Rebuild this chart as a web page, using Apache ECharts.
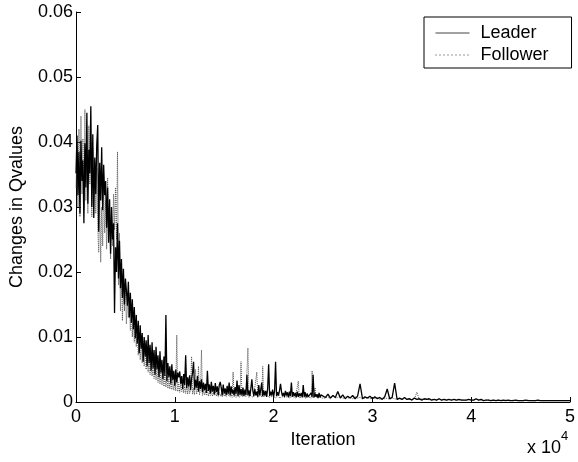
<!DOCTYPE html>
<html>
<head>
<meta charset="utf-8">
<script src="https://cdn.jsdelivr.net/npm/echarts@6/dist/echarts.min.js"></script>
<style>
html,body{margin:0;padding:0;background:#fff;}
#chart{width:578px;height:462px;}
</style>
</head>
<body>
<div id="chart"></div>
<script>
// Sampling grid: every 100 iterations from 0 to 25000, then every 250 iterations up to 50000
const earlyStep = 100;
const earlyEnd = 25000;
const lateStep = 250;

const seriesNames = ['Leader', 'Follower'];

const xTickLabels = ['0', '1', '2', '3', '4', '5'];
const yTickLabels = ['0', '0.01', '0.02', '0.03', '0.04', '0.05', '0.06'];

// iterations 0 .. 25000 (step 100)
const leaderEarly = [
  .0352, .0410, .0318, .0385, .0290, .0402, .0340, .0372, .0275, .0398,
  .0330, .0445, .0305, .0388, .0352, .0455, .0300, .0412, .0283, .0376,
  .0320, .0395, .0426, .0262, .0368, .0310, .0392, .0295, .0365, .0318,
  .0340, .0268, .0330, .0245, .0312, .0228, .0300, .0250, .0275, .0137,
  .0238, .0200, .0275, .0190, .0248, .0175, .0220, .0160, .0205, .0150,
  .0190, .0172, .0148, .0185, .0130, .0168, .0122, .0158, .0112, .0146,
  .0098, .0134, .0090, .0125, .0075, .0118, .0082, .0106, .0062, .0100,
  .0070, .0095, .0055, .0103, .0060, .0088, .0048, .0092, .0052, .0080,
  .0042, .0085, .0050, .0072, .0038, .0078, .0045, .0065, .0035, .0070,
  .0040, .0134, .0032, .0060, .0038, .0055, .0028, .0058, .0034, .0048,
  .0025, .0050, .0030, .0045, .0038, .0047, .0028, .0040, .0020, .0043,
  .0026, .0072, .0021, .0038, .0024, .0041, .0018, .0036, .0045, .0062,
  .0019, .0034, .0022, .0040, .0016, .0032, .0020, .0035, .0015, .0030,
  .0018, .0028, .0014, .0048, .0017, .0027, .0013, .0031, .0016, .0025,
  .0012, .0029, .0015, .0024, .0011, .0026, .0031, .0022, .0010, .0027,
  .0013, .0021, .0011, .0025, .0012, .0030, .0010, .0024, .0013, .0019,
  .0010, .0023, .0012, .0033, .0009, .0026, .0011, .0020, .0010, .0022,
  .0009, .0019, .0011, .0042, .0010, .0018, .0009, .0021, .0035, .0017,
  .0009, .0020, .0010, .0016, .0008, .0026, .0010, .0019, .0030, .0009,
  .0018, .0010, .0017, .0008, .0021, .0058, .0009, .0016, .0010, .0019,
  .0008, .0017, .0062, .0009, .0015, .0010, .0018, .0028, .0016, .0009,
  .0014, .0008, .0017, .0010, .0015, .0007, .0016, .0009, .0030, .0008,
  .0015, .0009, .0014, .0007, .0016, .0008, .0013, .0009, .0014, .0007,
  .0026, .0008, .0015, .0007, .0013, .0008, .0011, .0007, .0014, .0008,
  .0042, .0007, .0013, .0008, .0012, .0006, .0014, .0007, .0011, .0008, .0013
];

// iterations 25250 .. 50000 (step 250)
const leaderLate = [
  .0007, .0012, .0006, .0010, .0007, .0016, .0006, .0011, .0005, .0009,
  .0006, .0010, .0005, .0009, .0028, .0005, .0008, .0006, .0009, .0005,
  .0008, .0005, .0007, .0004, .0008, .0020, .0005, .0007, .0029, .0004,
  .0006, .0004, .0007, .0004, .0005, .0003, .0006, .0004, .0005, .0003,
  .0005, .0004, .0005, .0003, .0004, .0003, .0005, .0003, .0004, .0003,
  .0004, .0003, .0004, .0003, .0004, .0003, .0003, .0003, .0004, .0003,
  .0003, .0005, .0003, .0004, .0002, .0003, .0003, .0002, .0003, .0002,
  .0003, .0002, .0003, .0002, .0003, .0002, .0002, .0003, .0002, .0002,
  .0002, .0003, .0002, .0002, .0002, .0002, .0003, .0002, .0002, .0002,
  .0002, .0002, .0002, .0002, .0002, .0002, .0002, .0002, .0002, .0002
];

const followerEarly = [
  .0330, .0395, .0300, .0420, .0285, .0440, .0320, .0405, .0295, .0450,
  .0310, .0380, .0290, .0425, .0335, .0400, .0285, .0390, .0315, .0370,
  .0290, .0360, .0270, .0230, .0320, .0215, .0300, .0240, .0335, .0260,
  .0310, .0235, .0345, .0250, .0300, .0220, .0285, .0240, .0320, .0265,
  .0330, .0250, .0385, .0180, .0260, .0140, .0215, .0125, .0195, .0140,
  .0175, .0120, .0160, .0130, .0150, .0110, .0138, .0100, .0128, .0092,
  .0118, .0085, .0110, .0072, .0100, .0065, .0092, .0060, .0088, .0055,
  .0082, .0050, .0078, .0046, .0070, .0042, .0066, .0040, .0062, .0036,
  .0058, .0034, .0055, .0030, .0052, .0028, .0048, .0026, .0045, .0024,
  .0042, .0023, .0040, .0021, .0038, .0020, .0036, .0019, .0034, .0018,
  .0032, .0017, .0103, .0016, .0030, .0015, .0028, .0016, .0026, .0014,
  .0025, .0013, .0027, .0012, .0024, .0013, .0022, .0070, .0012, .0021,
  .0011, .0050, .0012, .0020, .0055, .0011, .0019, .0080, .0010, .0018,
  .0011, .0017, .0010, .0019, .0009, .0016, .0010, .0018, .0009, .0015,
  .0010, .0016, .0009, .0014, .0008, .0015, .0009, .0013, .0008, .0014,
  .0009, .0013, .0008, .0012, .0009, .0014, .0008, .0012, .0007, .0046,
  .0008, .0013, .0007, .0011, .0008, .0012, .0007, .0062, .0008, .0011,
  .0007, .0012, .0008, .0010, .0083, .0007, .0011, .0008, .0010, .0007,
  .0011, .0008, .0010, .0046, .0007, .0010, .0008, .0011, .0007, .0055,
  .0008, .0010, .0007, .0011, .0008, .0009, .0007, .0010, .0006, .0009,
  .0007, .0010, .0006, .0009, .0007, .0011, .0006, .0009, .0007, .0008,
  .0006, .0009, .0007, .0008, .0006, .0010, .0006, .0008, .0007, .0009,
  .0006, .0008, .0006, .0009, .0007, .0032, .0006, .0008, .0006, .0009,
  .0007, .0008, .0006, .0009, .0006, .0008, .0007, .0009, .0006, .0048,
  .0006, .0008, .0022, .0007, .0009, .0006, .0008, .0006, .0009, .0006, .0008
];

const followerLate = [
  .0006, .0008, .0005, .0011, .0006, .0007, .0010, .0005, .0008, .0006,
  .0007, .0005, .0008, .0006, .0007, .0005, .0006, .0007, .0005, .0006,
  .0005, .0007, .0004, .0006, .0005, .0006, .0004, .0006, .0005, .0004,
  .0005, .0004, .0006, .0004, .0005, .0004, .0005, .0015, .0004, .0005,
  .0004, .0005, .0003, .0004, .0004, .0003, .0005, .0003, .0004, .0003,
  .0004, .0003, .0004, .0003, .0003, .0004, .0003, .0003, .0004, .0003,
  .0003, .0004, .0003, .0003, .0002, .0003, .0003, .0002, .0003, .0002,
  .0003, .0002, .0002, .0003, .0002, .0002, .0003, .0002, .0002, .0002,
  .0002, .0002, .0003, .0002, .0002, .0002, .0002, .0002, .0002, .0002,
  .0002, .0002, .0002, .0002, .0002, .0002, .0002, .0002, .0002, .0002
];

const FONT = '"Liberation Sans", Arial, Helvetica, sans-serif';

function toPairs(early, late) {
  const pts = early.map((v, i) => [i * earlyStep, v]);
  late.forEach((v, j) => pts.push([earlyEnd + (j + 1) * lateStep, v]));
  return pts;
}

const chart = echarts.init(document.getElementById('chart'), null, {renderer: 'canvas'});

chart.setOption({
  animation: false,
  backgroundColor: '#fff',
  textStyle: {fontFamily: FONT},
  grid: {left: 75, right: 6, top: 12, bottom: 60, containLabel: false},
  legend: {
    data: [
      {name: seriesNames[0], lineStyle: {color: '#444', width: 1, type: 'solid'}},
      {name: seriesNames[1], lineStyle: {color: '#333', width: 1, type: [1, 3]}}
    ],
    orient: 'vertical',
    left: 424,
    top: 17,
    backgroundColor: '#fff',
    borderColor: '#000',
    borderWidth: 1,
    borderRadius: 0,
    padding: [7, 23, 4, 11],
    itemWidth: 34,
    itemHeight: 14,
    itemGap: 4,
    selectedMode: false,
    itemStyle: {opacity: 0},
    textStyle: {fontSize: 18, color: '#000', fontFamily: FONT, padding: [0, 0, 0, 6]}
  },
  xAxis: {
    type: 'value',
    min: 0,
    max: 50000,
    interval: 10000,
    name: 'Iteration',
    nameLocation: 'middle',
    nameGap: 23,
    nameTextStyle: {fontSize: 18, color: '#000', fontFamily: FONT},
    axisLine: {show: true, onZero: false, lineStyle: {color: '#000', width: 1}},
    axisTick: {show: true, inside: true, length: 5, lineStyle: {color: '#000'}},
    axisLabel: {
      fontSize: 18, color: '#000', fontFamily: FONT, margin: 6,
      formatter: (v) => xTickLabels[Math.round(v / 10000)]
    },
    splitLine: {show: false}
  },
  yAxis: {
    type: 'value',
    min: 0,
    max: 0.06,
    interval: 0.01,
    name: 'Changes in Qvalues',
    nameLocation: 'middle',
    nameGap: 50,
    nameRotate: 90,
    nameTextStyle: {fontSize: 18, color: '#000', fontFamily: FONT},
    axisLine: {show: true, onZero: false, lineStyle: {color: '#000', width: 1}},
    axisTick: {show: true, inside: true, length: 5, lineStyle: {color: '#000'}},
    axisLabel: {
      fontSize: 18, color: '#000', fontFamily: FONT, margin: 3,
      formatter: (v) => yTickLabels[Math.round(v * 100)]
    },
    splitLine: {show: false}
  },
  graphic: [
    {type: 'text', left: 527, top: 439, style: {text: 'x 10', font: '18px ' + FONT, fill: '#000'}},
    {type: 'text', left: 561, top: 430, style: {text: '4', font: '13px ' + FONT, fill: '#000'}}
  ],
  series: [
    {
      name: seriesNames[1],
      type: 'line',
      data: toPairs(followerEarly, followerLate),
      showSymbol: false,
      symbol: 'none',
      sampling: null,
      lineStyle: {color: '#555', width: 1, type: 'dotted'},
      itemStyle: {color: '#555'},
      z: 2
    },
    {
      name: seriesNames[0],
      type: 'line',
      data: toPairs(leaderEarly, leaderLate),
      showSymbol: false,
      symbol: 'none',
      sampling: null,
      lineStyle: {color: '#000', width: 1.3},
      itemStyle: {color: '#000'},
      z: 3
    }
  ]
});
</script>
</body>
</html>
